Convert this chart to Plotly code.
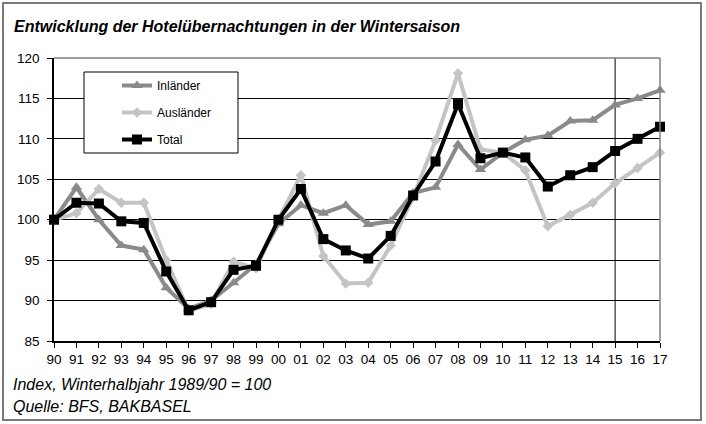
import plotly.graph_objects as go

years = ["90","91","92","93","94","95","96","97","98","99","00","01","02","03","04",
         "05","06","07","08","09","10","11","12","13","14","15","16","17"]
inlaender = [100, 104, 100, 96.8, 96.3, 91.6, 89, 90, 92.2, 94.5, 99.5, 101.8, 100.8, 101.8, 99.4,
             99.8, 103.3, 104, 109.3, 106.2, 108.3, 109.9, 110.4, 112.2, 112.3, 114.2, 115, 116]
auslaender = [100, 100.8, 103.8, 102.1, 102.1, 95, 88.7, 89.6, 94.8, 94, 100, 105.5, 95.5, 92.1, 92.2,
              96.8, 102.8, 109.8, 118.1, 108.7, 108.3, 106.1, 99.2, 100.6, 102.1, 104.5, 106.4, 108.3]
total = [100, 102.1, 102, 99.8, 99.6, 93.6, 88.8, 89.8, 93.8, 94.3, 100, 103.8, 97.6, 96.2, 95.2,
         98, 103, 107.2, 114.3, 107.6, 108.3, 107.7, 104.1, 105.5, 106.5, 108.5, 110, 111.5]

FONT = "Liberation Sans, Arial, sans-serif"
xi = list(range(len(years)))

fig = go.Figure()
fig.add_trace(go.Scatter(x=xi, y=inlaender, name="Inländer", mode="lines+markers",
                         line=dict(color="#8a8a8a", width=4),
                         marker=dict(symbol="triangle-up", size=10, color="#8a8a8a"),
                         legendgroup="a", cliponaxis=False))
fig.add_trace(go.Scatter(x=xi, y=auslaender, name="Ausländer", mode="lines+markers",
                         line=dict(color="#c4c4c4", width=4),
                         marker=dict(symbol="diamond", size=8, color="#c4c4c4"),
                         legendgroup="b", cliponaxis=False))
fig.add_trace(go.Scatter(x=xi, y=total, name="Total", mode="lines+markers",
                         line=dict(color="#000000", width=4),
                         marker=dict(symbol="square", size=10, color="#000000"),
                         legendgroup="c", cliponaxis=False))

W, H = 706, 424
ml, mr, mt, mb = 54, 46, 58, 83
pw, ph = W - ml - mr, H - mt - mb

def px(x):
    return (x - ml) / pw

def py(y):
    return (H - mb - y) / ph

shapes = [
    # outer frame
    dict(type="rect", xref="paper", yref="paper", x0=px(3), x1=px(701), y0=py(420), y1=py(3),
         line=dict(color="#7a7a7a", width=2), layer="below"),
    # top and right border of plot
    dict(type="line", xref="paper", yref="paper", x0=0, x1=1, y0=1, y1=1,
         line=dict(color="#808080", width=1.5)),
    dict(type="line", xref="paper", yref="paper", x0=1, x1=1, y0=0, y1=1,
         line=dict(color="#808080", width=1.5)),
    # vertical marker line at 15
    dict(type="line", xref="x", yref="paper", x0=years.index("15"), x1=years.index("15"), y0=0, y1=1,
         line=dict(color="#000000", width=1), layer="below"),
    # legend box
    dict(type="rect", xref="paper", yref="paper", x0=px(84), x1=px(238), y0=py(153), y1=py(72),
         line=dict(color="#000000", width=1), fillcolor="white", layer="above"),
]

annotations = [
    dict(text="<b><i>Entwicklung der Hotelübernachtungen in der Wintersaison</i></b>",
         xref="paper", yref="paper", x=px(12), y=py(26), xanchor="left", yanchor="middle",
         showarrow=False, font=dict(family=FONT, size=16, color="#000")),
    dict(text="<i>Index, Winterhalbjahr 1989/90 = 100</i>",
         xref="paper", yref="paper", x=px(11), y=py(384), xanchor="left", yanchor="middle",
         showarrow=False, font=dict(family=FONT, size=16, color="#000")),
    dict(text="<i>Quelle: BFS, BAKBASEL</i>",
         xref="paper", yref="paper", x=px(11), y=py(406), xanchor="left", yanchor="middle",
         showarrow=False, font=dict(family=FONT, size=16, color="#000")),
]

fig.update_layout(
    width=W, height=H, margin=dict(l=ml, r=mr, t=mt, b=mb),
    paper_bgcolor="white", plot_bgcolor="white",
    font=dict(family=FONT, size=13, color="#000"),
    showlegend=True,
    legend=dict(x=px(117), y=py(71), xanchor="left", yanchor="top",
                bgcolor="rgba(0,0,0,0)", borderwidth=0, tracegroupgap=8,
                font=dict(family=FONT, size=12, color="#000")),
    shapes=shapes, annotations=annotations,
    xaxis=dict(range=[0, len(years) - 1], tickmode="array", tickvals=xi, ticktext=years,
               showgrid=False, showline=True, linecolor="#000", linewidth=1.5,
               ticks="outside", ticklen=5, tickcolor="#000", zeroline=False,
               tickfont=dict(size=13.5)),
    yaxis=dict(range=[85, 120], dtick=5, tick0=85, showgrid=True, gridcolor="#000", gridwidth=1,
               showline=True, linecolor="#000", linewidth=1.5,
               ticks="outside", ticklen=5, tickcolor="#000", zeroline=False,
               ticklabelstandoff=5, tickfont=dict(size=13.5)),
)

fig.write_html("out.html")
